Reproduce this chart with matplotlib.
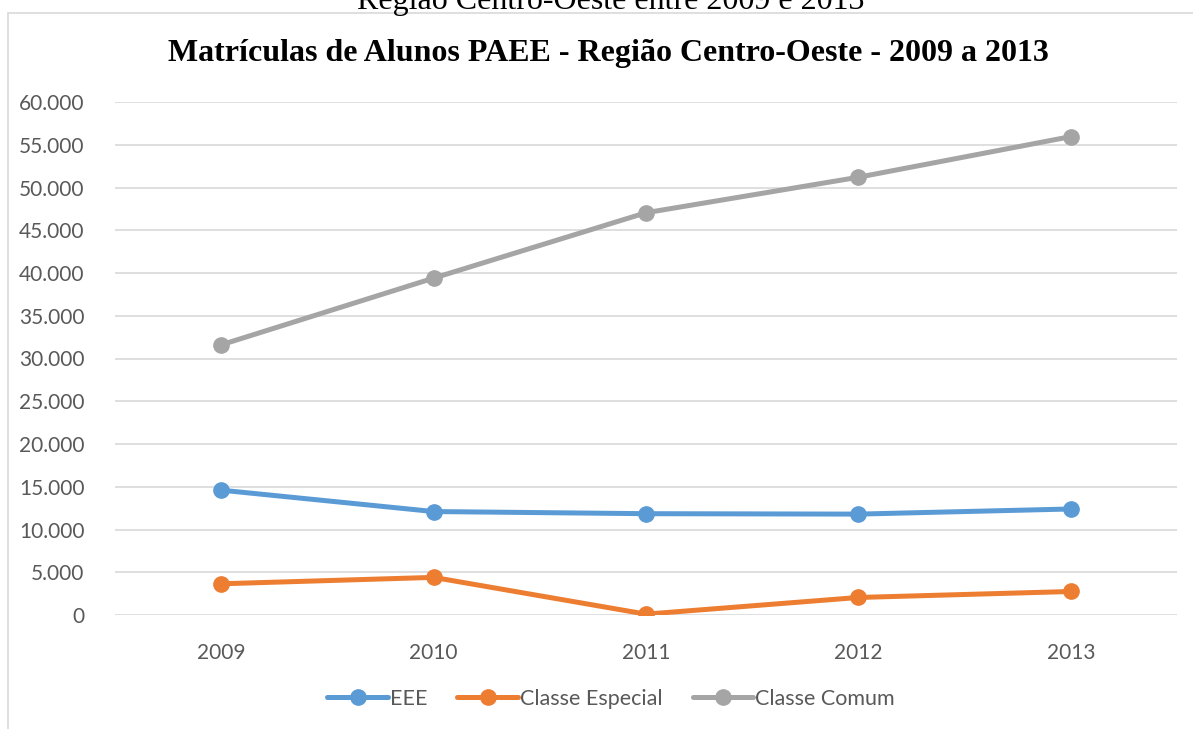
import matplotlib.pyplot as plt
from matplotlib.patches import Rectangle
from matplotlib.ticker import FuncFormatter

# Data
years = ["2009", "2010", "2011", "2012", "2013"]
eee = [14600, 12100, 11850, 11800, 12400]
classe_especial = [3650, 4400, 100, 2050, 2750]
classe_comum = [31600, 39400, 47050, 51200, 55950]

series_names = ["EEE", "Classe Especial", "Classe Comum"]
series_colors = ["#5B9BD5", "#ED7D31", "#A5A5A5"]

fig = plt.figure(figsize=(11.93, 7.29), dpi=100)

# Chart frame (light grey border, right/bottom fall outside the crop)
fig.patches.append(
    Rectangle((8 / 1193, -0.05), 1.2, 1 - 13 / 729 + 0.05,
              transform=fig.transFigure, fill=False,
              edgecolor="#D9D9D9", linewidth=1.2)
)

# Caption above the chart, cut off by the top edge like in the source
fig.text(611 / 1193, 1 - 1 / 729, "Região Centro-Oeste entre 2009 e 2013",
         family="Liberation Serif", fontsize=23, ha="center", va="center")

ax = fig.add_axes([115 / 1193, 1 - 615 / 729, (1177 - 115) / 1193, (615 - 102) / 729])

x = range(len(years))
for vals, name, color in zip([eee, classe_especial, classe_comum], series_names, series_colors):
    ax.plot(x, vals, color=color, linewidth=3.6, marker="o", markersize=11,
            label=name, solid_capstyle="round")

ax.set_xlim(-0.5, len(years) - 0.5)
ax.set_ylim(0, 60000)
ax.set_yticks(range(0, 60001, 5000))
ax.yaxis.set_major_formatter(FuncFormatter(lambda v, p: f"{int(v):,}".replace(",", ".")))
ax.set_xticks(list(x))
ax.set_xticklabels(years)

ax.grid(axis="y", color="#D9D9D9", linewidth=1.2)
ax.set_axisbelow(True)
for s in ax.spines.values():
    s.set_visible(False)
ax.tick_params(length=0, labelsize=15, labelcolor="#595959")
ax.tick_params(axis="y", pad=22)
ax.tick_params(axis="x", pad=20)
for lbl in ax.get_xticklabels() + ax.get_yticklabels():
    lbl.set_family("Lato")

fig.text(608 / 1193, 1 - 54 / 729,
         "Matrículas de Alunos PAEE - Região Centro-Oeste - 2009 a 2013",
         family="Liberation Serif", fontweight="bold", fontsize=23,
         ha="center", va="center")

leg = fig.legend(loc="center", bbox_to_anchor=(611 / 1193, 1 - 699 / 729), ncol=3,
                 frameon=False, prop={"family": "Lato", "size": 15.5},
                 handlelength=2.8, handletextpad=0.1, columnspacing=1.4)
for t in leg.get_texts():
    t.set_color("#595959")

plt.savefig("out.png", dpi=100)
